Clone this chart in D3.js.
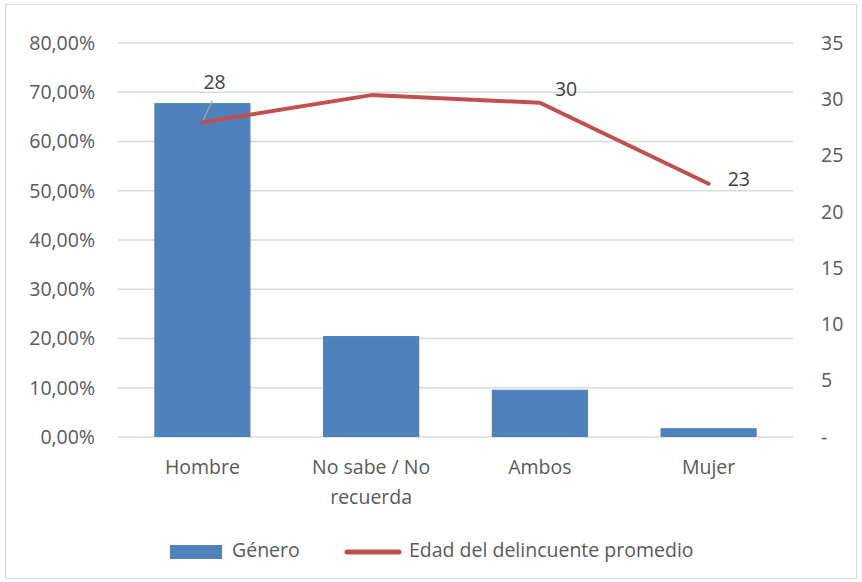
<!DOCTYPE html>
<meta charset="utf-8">
<title>Género y edad del delincuente</title>
<style>
body { margin: 0; background: #fff; }
text { font-family: "Open Sans", sans-serif; fill: #595959; }
.grid line { stroke: #d9d9d9; stroke-width: 1.3px; }
</style>
<svg width="862" height="582"></svg>
<script src="https://d3js.org/d3.v7.min.js"></script>
<script>

var categories = ["Hombre", "No sabe / No recuerda", "Ambos", "Mujer"];
var genero = [0.678, 0.205, 0.096, 0.018];
var edad = [27.95, 30.37, 29.69, 22.5];
var edadLabels = ["28", null, "30", "23"];
var leftTicks = [0, 0.1, 0.2, 0.3, 0.4, 0.5, 0.6, 0.7, 0.8];
var rightTicks = [0, 5, 10, 15, 20, 25, 30, 35];

var svg = d3.select("svg"),
    mLeft = 118, mRight = 793, mTop = 43, mBottom = 437,
    fs = "19.5px";

svg.append("rect")
    .attr("x", 5.5).attr("y", 4.5)
    .attr("width", 851).attr("height", 574)
    .attr("fill", "#fff").attr("stroke", "#d9d9d9");

var x = d3.scaleBand().domain(categories).range([mLeft, mRight]).paddingInner(0.43).paddingOuter(0.215);
var y = d3.scaleLinear().domain([0, 0.8]).range([mBottom, mTop]);
var y2 = d3.scaleLinear().domain([0, 35]).range([mBottom, mTop]);

var fmt = function(d) { return d3.format(".2f")(d * 100).replace(".", ",") + "%"; };

// gridlines
svg.append("g").attr("class", "grid")
  .selectAll("line").data(leftTicks).enter().append("line")
    .attr("x1", mLeft).attr("x2", mRight)
    .attr("y1", function(d) { return y(d); })
    .attr("y2", function(d) { return y(d); });

// left axis
var yAxis = svg.append("g")
    .attr("transform", "translate(" + (mLeft - 23) + ",0)")
    .call(d3.axisLeft(y).tickValues(leftTicks).tickFormat(fmt).tickSize(0));
yAxis.select(".domain").remove();
yAxis.selectAll("text").attr("x", 0).style("font-size", fs).style("font-family", "'Open Sans', sans-serif").attr("fill", "#595959");

// right axis
var y2Axis = svg.append("g")
    .attr("transform", "translate(" + (mRight + 28) + ",0)")
    .call(d3.axisRight(y2).tickValues(rightTicks)
      .tickFormat(function(d) { return d === 0 ? "-" : d; }).tickSize(0));
y2Axis.select(".domain").remove();
y2Axis.selectAll("text").attr("x", 0).style("font-size", fs).style("font-family", "'Open Sans', sans-serif").attr("fill", "#595959");

// bars
svg.append("g").selectAll("rect")
  .data(categories).enter().append("rect")
    .attr("x", function(d) { return x(d); })
    .attr("width", x.bandwidth())
    .attr("y", function(d, i) { return y(genero[i]); })
    .attr("height", function(d, i) { return mBottom - y(genero[i]); })
    .attr("fill", "#4f81bd");

// category labels
var catLabel = svg.append("g").selectAll("text")
  .data(categories).enter().append("text")
    .attr("text-anchor", "middle")
    .style("font-size", fs)
    .attr("transform", function(d) { return "translate(" + (x(d) + x.bandwidth() / 2) + ",474)"; });
catLabel.each(function(d) {
  var t = d3.select(this);
  var lines = d === "No sabe / No recuerda" ? ["No sabe / No", "recuerda"] : [d];
  lines.forEach(function(l, i) {
    t.append("tspan").attr("x", 0).attr("dy", i ? 30 : 0).text(l);
  });
});

// line
var pts = categories.map(function(d, i) { return [x(d) + x.bandwidth() / 2, y2(edad[i])]; });

// leader line for first label
svg.append("line")
    .attr("x1", pts[0][0]).attr("y1", pts[0][1])
    .attr("x2", pts[0][0] + 10).attr("y2", pts[0][1] - 22)
    .attr("stroke", "#a6a6a6").attr("stroke-width", 1.2);

svg.append("path")
    .datum(pts)
    .attr("d", d3.line())
    .attr("fill", "none")
    .attr("stroke", "#c0504d")
    .attr("stroke-width", 4)
    .attr("stroke-linejoin", "round")
    .attr("stroke-linecap", "round");

var labelPos = [[pts[0][0] + 1, pts[0][1] - 39], null,
                [pts[2][0] + 15, pts[2][1] - 12],
                [pts[3][0] + 19, pts[3][1] - 3]];
edadLabels.forEach(function(l, i) {
  if (!l) return;
  svg.append("text")
    .attr("x", labelPos[i][0]).attr("y", labelPos[i][1])
    .attr("dominant-baseline", "middle")
    .style("font-size", fs)
    .style("fill", "#404040")
    .text(l);
});

// legend
var legend = svg.append("g");
legend.append("rect").attr("x", 170).attr("y", 545).attr("width", 52).attr("height", 14).attr("fill", "#4f81bd");
legend.append("text").attr("x", 232).attr("y", 552).attr("dominant-baseline", "middle")
    .style("font-size", fs).text("Género");
legend.append("line").attr("x1", 347).attr("x2", 399).attr("y1", 552).attr("y2", 552)
    .attr("stroke", "#c0504d").attr("stroke-width", 5).attr("stroke-linecap", "round");
legend.append("text").attr("x", 409).attr("y", 552).attr("dominant-baseline", "middle")
    .style("font-size", fs).text("Edad del delincuente promedio");

</script>
